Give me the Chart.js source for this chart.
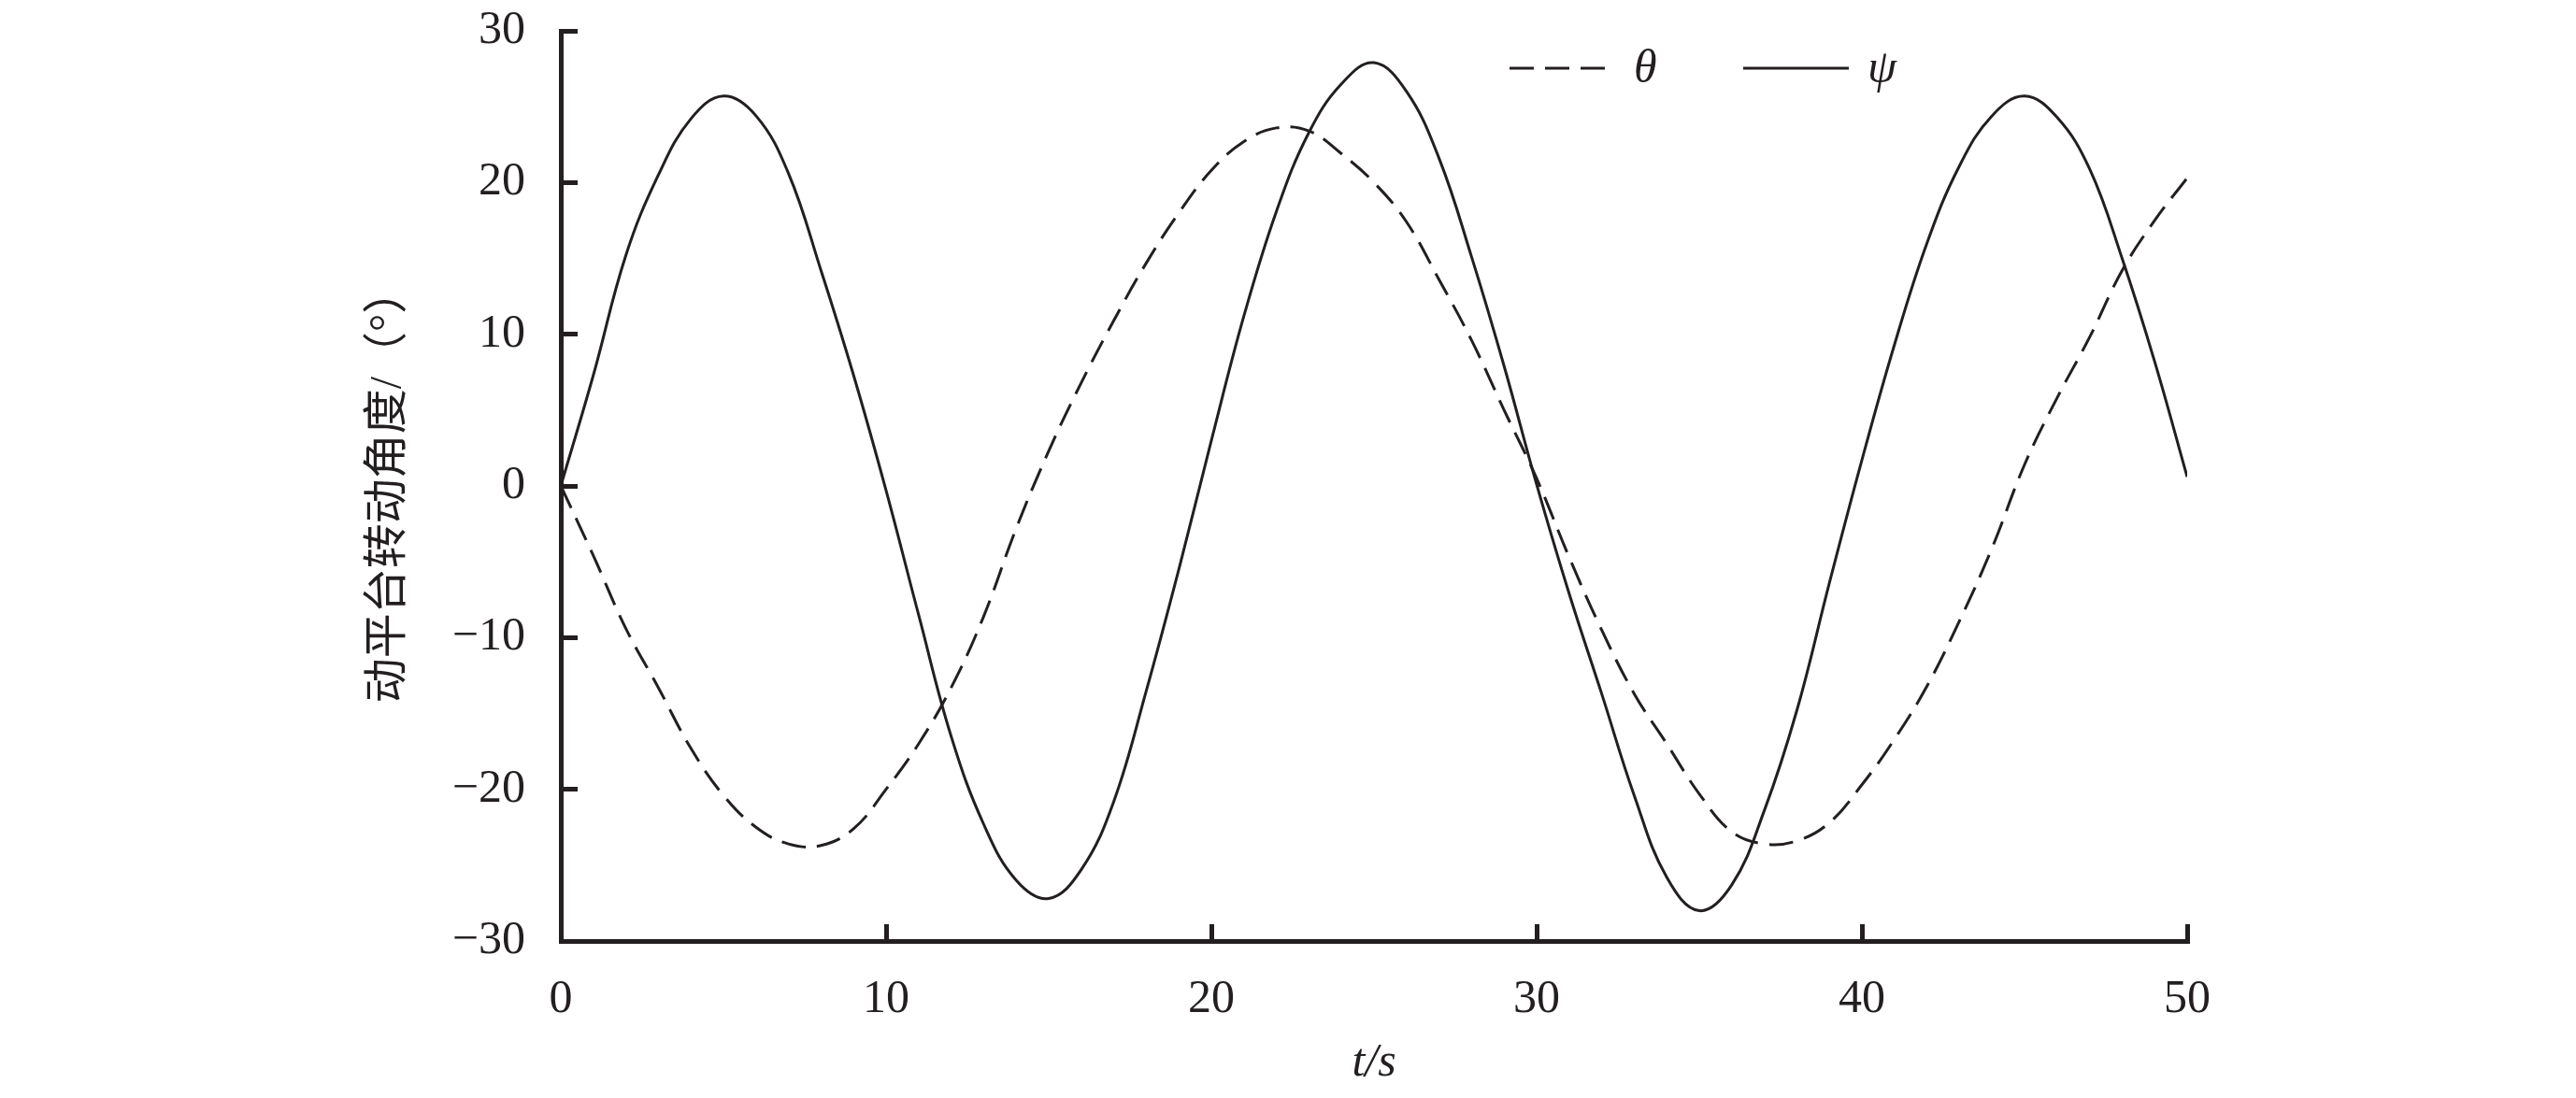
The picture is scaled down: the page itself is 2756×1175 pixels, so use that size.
<!DOCTYPE html>
<html>
<head>
<meta charset="utf-8">
<script src="https://cdn.jsdelivr.net/npm/chart.js@4.4.1/dist/chart.umd.min.js"></script>
<style>
  html, body { margin: 0; padding: 0; background: #fff; }
  #wrap { width: 2756px; height: 1175px; position: relative; }
</style>
</head>
<body>
<div id="wrap"><canvas id="angleChart"></canvas></div>
<script>
// time axis (s)
const timeS = [0, 1, 2, 3, 4, 5, 6, 7, 8, 9, 10, 11, 12, 13, 14, 15, 16, 17, 18, 19, 20,
  21, 22, 23, 24, 25, 26, 27, 28, 29, 30, 31, 32, 33, 34, 35, 36, 37, 38, 39, 40,
  41, 42, 43, 44, 45, 46, 47, 48, 49, 50];

// theta (dashed), degrees
const thetaDeg = [0, -4.6, -9.4, -13.3, -17.3, -20.4, -22.5, -23.6, -23.7, -22.6, -20.0,
  -17.0, -13.3, -8.6, -2.8, 2.3, 6.8, 10.9, 14.7, 18.0, 20.8,
  22.7, 23.6, 23.4, 21.9, 20.0, 17.4, 13.6, 9.6, 5.0, 0.5,
  -4.7, -9.5, -13.7, -17.0, -20.3, -22.8, -23.6, -23.4, -22.2, -19.7,
  -16.7, -13.2, -8.9, -4.1, 1.4, 5.8, 9.8, 14.2, 17.5, 20.3];

// psi (solid), degrees
const psiDeg = [0, 7.3, 15.2, 20.5, 24.2, 25.7, 24.4, 20.6, 14.2, 7.3, -0.3,
  -8.5, -16.5, -22.3, -26.0, -27.2, -25.3, -20.8, -13.5, -5.5, 3.0,
  11.2, 18.1, 23.3, 26.5, 27.9, 26.0, 21.6, 15.1, 7.9, 0.1,
  -7.1, -13.7, -20.4, -25.8, -28.0, -26.3, -21.4, -14.8, -6.4, 1.7,
  9.3, 16.0, 21.1, 24.4, 25.7, 24.3, 20.9, 15.0, 8.2, 0.6];

const xTicks = [0, 10, 20, 30, 40, 50];
const yTicks = [-30, -20, -10, 0, 10, 20, 30];

const INK = '#231f20';
const SERIF = "'Liberation Serif', 'DejaVu Serif', serif";
const CJK = "'Liberation Serif', 'Noto Sans CJK SC', serif";

// legend drawn inside the plot, top right
const insideLegend = {
  id: 'insideLegend',
  afterDraw(chart) {
    const { ctx, chartArea } = chart;
    const y = chartArea.top + 40;
    let x = chartArea.left + 1015;
    ctx.save();
    chart.data.datasets.forEach((ds) => {
      ctx.strokeStyle = ds.borderColor;
      ctx.lineWidth = 3;
      ctx.setLineDash(ds.borderDash || []);
      ctx.beginPath();
      ctx.moveTo(x, y);
      ctx.lineTo(x + 113, y);
      ctx.stroke();
      ctx.setLineDash([]);
      ctx.fillStyle = INK;
      ctx.font = 'italic 50px ' + SERIF;
      ctx.textBaseline = 'middle';
      ctx.fillText(ds.label, x + 133, y + 2);
      x += 250;
    });
    ctx.restore();
  }
};

const ctx = document.getElementById('angleChart');

new Chart(ctx, {
  type: 'line',
  data: {
    datasets: [{
      label: 'θ',
      data: timeS.map((t, i) => ({ x: t, y: thetaDeg[i] })),
      borderColor: INK,
      borderWidth: 3,
      borderDash: [26, 12],
      pointRadius: 0,
      tension: 0.4,
      fill: false
    }, {
      label: 'ψ',
      data: timeS.map((t, i) => ({ x: t, y: psiDeg[i] })),
      borderColor: INK,
      borderWidth: 3,
      pointRadius: 0,
      tension: 0.4,
      fill: false
    }]
  },
  options: {
    responsive: true,
    maintainAspectRatio: false,
    animation: false,
    layout: {
      padding: { left: 0, right: 416, top: 33, bottom: 0 }
    },
    plugins: {
      legend: { display: false },
      tooltip: { enabled: false }
    },
    scales: {
      x: {
        type: 'linear',
        min: 0,
        max: 50,
        afterFit: (scale) => {
          scale.height = 168;
          scale.paddingLeft = 0;
          scale.paddingRight = 0;
        },
        afterBuildTicks: (scale) => { scale.ticks = xTicks.map(v => ({ value: v })); },
        border: { display: true, color: INK, width: 5 },
        grid: {
          drawOnChartArea: false,
          drawTicks: true,
          tickLength: -18,
          color: INK,
          lineWidth: 5
        },
        ticks: {
          padding: 51,
          color: INK,
          font: { family: SERIF, size: 50 },
          maxRotation: 0
        },
        title: {
          display: true,
          text: 't/s',
          color: INK,
          font: { family: SERIF, size: 50, style: 'italic' },
          padding: { top: 0, bottom: 7 }
        }
      },
      y: {
        type: 'linear',
        min: -30,
        max: 30,
        afterFit: (scale) => {
          scale.width = 600;
          scale.paddingTop = 0;
          scale.paddingBottom = 0;
        },
        afterBuildTicks: (scale) => { scale.ticks = yTicks.map(v => ({ value: v })); },
        border: { display: true, color: INK, width: 5 },
        grid: {
          drawOnChartArea: false,
          drawTicks: true,
          tickLength: -18,
          color: INK,
          lineWidth: 5
        },
        ticks: {
          padding: 56,
          color: INK,
          font: { family: SERIF, size: 50 },
          callback: (v) => String(v).replace('-', '\u2212')
        },
        title: {
          display: true,
          text: '动平台转动角度/（°）',
          color: INK,
          font: { family: CJK, size: 48 },
          padding: { top: 388, bottom: 0 }
        }
      }
    }
  },
  plugins: [insideLegend]
});
</script>
</body>
</html>
